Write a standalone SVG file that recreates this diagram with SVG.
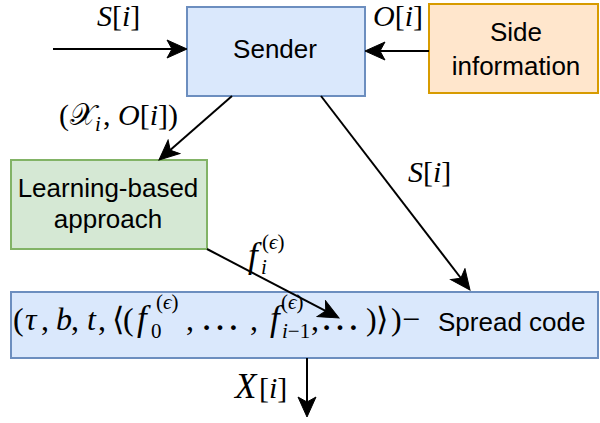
<svg xmlns="http://www.w3.org/2000/svg" width="600" height="423" viewBox="0 0 600 423">
<style>
.box{stroke-width:2}
.blue{fill:#dae8fc;stroke:#6c8ebf}
.orange{fill:#ffe6cc;stroke:#d79b00}
.green{fill:#d5e8d4;stroke:#82b366}
.lbl{font-family:"Liberation Sans",Arial,sans-serif;font-size:26px;fill:#000}
.m{font-family:"Liberation Serif","Times New Roman",serif;fill:#000}
.it{font-style:italic}
.ml{font-size:30px}
.mf{font-size:32px}
.ms{font-size:21px}
.big{font-size:35px}
.edge{stroke:#000;stroke-width:2;fill:none}
</style>
<defs>
<marker id="arr" viewBox="-21 -10 22 20" markerWidth="22" markerHeight="20" refX="-12" refY="0" orient="auto" markerUnits="userSpaceOnUse">
<path d="M0,0 L-20,-9 L-15,0 L-20,9 Z" fill="#000" stroke="#000" stroke-width="1" stroke-linejoin="miter"/>
</marker>
</defs>
<rect width="600" height="423" fill="#fff"/>
<g id="sender">
<rect class="box blue" x="187" y="7" width="178" height="89"/>
<text class="lbl" x="275" y="58" text-anchor="middle">Sender</text>
</g>
<g id="side-information">
<rect class="box orange" x="429" y="4" width="169" height="89"/>
<text class="lbl" x="516" y="41" text-anchor="middle">Side</text>
<text class="lbl" x="516" y="75" text-anchor="middle">information</text>
</g>
<g id="learning">
<rect class="box green" x="11" y="160" width="196" height="89"/>
<text class="lbl" x="108" y="197" text-anchor="middle">Learning-based</text>
<text class="lbl" x="108" y="228" text-anchor="middle">approach</text>
</g>
<g id="spread-code">
<rect class="box blue" x="11" y="292" width="587" height="66"/>
<text class="m mf" y="330"><tspan x="13">(</tspan><tspan class="it" x="25">τ</tspan><tspan x="41">,</tspan><tspan class="it" x="56">b</tspan><tspan x="71">,</tspan><tspan class="it" x="87">t</tspan><tspan x="98">,</tspan><tspan x="112">⟨</tspan><tspan x="123">(</tspan><tspan class="it big" x="137">f</tspan><tspan class="ms" x="156" y="309">(<tspan class="it">ϵ</tspan>)</tspan><tspan class="ms" x="151" y="338">0</tspan><tspan x="186" y="330">,</tspan><tspan x="200" style="font-size:40px">…</tspan><tspan x="250">,</tspan><tspan class="it big" x="270">f</tspan><tspan class="ms" x="281" y="309">(<tspan class="it">ϵ</tspan>)</tspan><tspan class="ms" x="282" y="338"><tspan class="it">i</tspan>−1</tspan><tspan x="311" y="330">,</tspan><tspan x="320" style="font-size:40px">…</tspan><tspan x="366">)</tspan><tspan x="376">⟩</tspan><tspan x="391">)</tspan><tspan x="402">−</tspan></text>
<text class="lbl" x="438" y="331">Spread code</text>
</g>
<g id="connectors">
<line class="edge" x1="53" y1="49" x2="175" y2="49" marker-end="url(#arr)"/>
<line class="edge" x1="429" y1="51" x2="377" y2="51" marker-end="url(#arr)"/>
<line class="edge" x1="232" y1="96" x2="168" y2="152.1" marker-end="url(#arr)"/>
<line class="edge" x1="321" y1="96" x2="462.7" y2="280.5" marker-end="url(#arr)"/>
<line class="edge" x1="207" y1="249" x2="328.4" y2="312.4" marker-end="url(#arr)"/>
<line class="edge" x1="307" y1="358" x2="307" y2="405" marker-end="url(#arr)"/>
</g>
<g id="edge-labels">
<text class="m ml" x="97" y="26"><tspan class="it">S</tspan>[<tspan class="it">i</tspan>]</text>
<text class="m ml" x="373" y="26"><tspan class="it">O</tspan>[<tspan class="it">i</tspan>]</text>
<text class="m ml" y="125"><tspan x="59">(</tspan><tspan x="70" style="font-family:'DejaVu Serif','DejaVu Sans',serif">𝒳</tspan><tspan class="ms it" x="95" y="131">i</tspan><tspan x="103" y="125">,</tspan><tspan class="it" x="118">O</tspan>[<tspan class="it">i</tspan>])</text>
<text class="m ml" x="408" y="182"><tspan class="it">S</tspan>[<tspan class="it">i</tspan>]</text>
<text class="m ml" y="267"><tspan class="it big" x="248">f</tspan><tspan class="ms it" x="261" y="274">i</tspan><tspan class="ms" x="262" y="249">(<tspan class="it">ϵ</tspan>)</tspan></text>
<text class="m ml" y="398"><tspan class="it big" x="235">X</tspan><tspan x="259">[</tspan><tspan class="it">i</tspan>]</text>
</g>
</svg>
